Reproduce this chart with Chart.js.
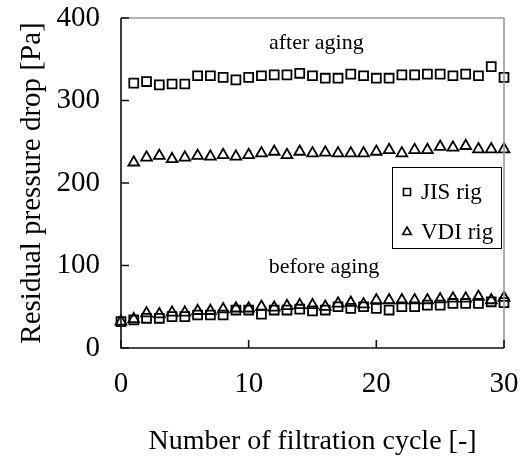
<!DOCTYPE html>
<html>
<head>
<meta charset="utf-8">
<script src="https://cdn.jsdelivr.net/npm/chart.js@4.4.1/dist/chart.umd.min.js"></script>
<style>
html,body{margin:0;padding:0;background:#fff;}
#wrap{width:520px;height:463px;position:relative;}
</style>
</head>
<body>
<div id="wrap"><canvas id="c" width="520" height="463"></canvas></div>
<script>
// ---- data ----
const cyclesBefore = [0,1,2,3,4,5,6,7,8,9,10,11,12,13,14,15,16,17,18,19,20,21,22,23,24,25,26,27,28,29,30];
const cyclesAfter  = [1,2,3,4,5,6,7,8,9,10,11,12,13,14,15,16,17,18,19,20,21,22,23,24,25,26,27,28,29,30];
const jisBefore = [32,34,36,36,38,38,40,40,40,46,46,41,46,46,47,45,46,50,48,50,48,46,50,50,52,52,54,54,54,56,55];
const vdiBefore = [32,35,42,41,43,43,45,45,47,48,48,50,49,51,52,52,50,54,55,53,58,58,58,58,58,59,60,60,62,58,61];
const jisAfter  = [321,323,319,320,320,330,330,328,325,328,330,331,331,333,330,327,327,332,330,327,327,331,331,332,332,330,332,330,341,328];
const vdiAfter  = [225,231,233,229,231,233,232,234,232,234,236,238,234,238,236,237,236,236,236,238,240,236,240,240,244,243,245,241,241,241];
const xTicks = [0,10,20,30];
const yTicks = [0,100,200,300,400];
const seriesNames = ['JIS rig','VDI rig'];
const notes = ['after aging','before aging'];
const xTitle = 'Number of filtration cycle [-]';
const yTitle = 'Residual pressure drop [Pa]';

const FONT = "'Liberation Serif','Times New Roman',serif";

function pts(xs, ys){ return xs.map((x,i)=>({x:x, y:ys[i]})); }

const sqStyle = {pointStyle:'rect', pointRadius:6.3, pointBorderWidth:1.8, pointBorderColor:'#000', pointBackgroundColor:'rgba(0,0,0,0)', showLine:false, clip:false};
const trStyle = {pointStyle:'triangle', pointRadius:6.2, pointBorderWidth:1.8, pointBorderColor:'#000', pointBackgroundColor:'rgba(0,0,0,0)', showLine:false, clip:false};

const framePlugin = {
  id:'frame',
  afterDraw(chart){
    const ctx = chart.ctx, a = chart.chartArea;
    const xs = chart.scales.x, ys = chart.scales.y;
    ctx.save();
    // top & right grey borders
    ctx.strokeStyle = '#9a9a9a'; ctx.lineWidth = 1.6;
    ctx.beginPath(); ctx.moveTo(a.left, a.top); ctx.lineTo(a.right, a.top); ctx.lineTo(a.right, a.bottom); ctx.stroke();
    // left & bottom black axes
    ctx.strokeStyle = '#111'; ctx.lineWidth = 1.6;
    ctx.beginPath(); ctx.moveTo(a.left, a.top); ctx.lineTo(a.left, a.bottom); ctx.lineTo(a.right, a.bottom); ctx.stroke();
    // inward ticks
    ctx.beginPath();
    yTicks.forEach(v=>{ const p = ys.getPixelForValue(v); ctx.moveTo(a.left, p); ctx.lineTo(a.left+8, p); });
    xTicks.forEach(v=>{ const p = xs.getPixelForValue(v); ctx.moveTo(p, a.bottom); ctx.lineTo(p, a.bottom-8); });
    ctx.stroke();
    // annotations
    ctx.fillStyle = '#000';
    ctx.font = "22px " + FONT;
    ctx.textAlign = 'center'; ctx.textBaseline = 'middle';
    ctx.fillText(notes[0], xs.getPixelForValue(15.3), ys.getPixelForValue(369));
    ctx.fillText(notes[1], xs.getPixelForValue(15.9), ys.getPixelForValue(98));
    // legend box
    const bx = 392, by = 167, bw = 109, bh = 81;
    ctx.fillStyle = '#fff'; ctx.fillRect(bx, by, bw, bh);
    ctx.strokeStyle = '#000'; ctx.lineWidth = 1;
    ctx.strokeRect(bx+0.5, by+0.5, bw, bh);
    const styles = ['rect','triangle'];
    const rows = [192, 232];
    ctx.font = "23px " + FONT;
    ctx.textAlign = 'left';
    rows.forEach((ry,i)=>{
      ctx.fillStyle = 'rgba(0,0,0,0)';
      ctx.strokeStyle = '#000'; ctx.lineWidth = 1.6;
      Chart.helpers.drawPoint(ctx, {pointStyle:styles[i], radius:5, borderWidth:1.6, rotation:0}, 407, ry);
      ctx.fillStyle = '#000';
      ctx.fillText(seriesNames[i], 421, ry+1);
    });
    ctx.restore();
  }
};

new Chart(document.getElementById('c'), {
  type:'scatter',
  data:{
    datasets:[
      Object.assign({label:seriesNames[0]+' before', data:pts(cyclesBefore, jisBefore)}, sqStyle),
      Object.assign({label:seriesNames[1]+' before', data:pts(cyclesBefore, vdiBefore)}, trStyle),
      Object.assign({label:seriesNames[0]+' after', data:pts(cyclesAfter, jisAfter)}, sqStyle),
      Object.assign({label:seriesNames[1]+' after', data:pts(cyclesAfter, vdiAfter)}, trStyle)
    ]
  },
  options:{
    responsive:false, animation:false, devicePixelRatio:1,
    layout:{padding:{top:18, right:16, left:0, bottom:0}},
    plugins:{legend:{display:false}, tooltip:{enabled:false}},
    scales:{
      x:{
        type:'linear', min:0, max:30,
        afterBuildTicks(s){ s.ticks = xTicks.map(v=>({value:v})); },
        afterFit(s){ s.height = 115; s.paddingLeft = 0; s.paddingRight = 0; },
        grid:{display:false, drawTicks:false},
        border:{display:false},
        ticks:{color:'#000', font:{family:FONT, size:29}, padding:19, maxRotation:0},
        title:{display:true, text:xTitle, color:'#000', font:{family:FONT, size:28}, padding:{top:0,bottom:5}}
      },
      y:{
        type:'linear', min:0, max:400,
        afterBuildTicks(s){ s.ticks = yTicks.map(v=>({value:v})); },
        afterFit(s){ s.width = 121; s.paddingTop = 0; s.paddingBottom = 0; },
        grid:{display:false, drawTicks:false},
        border:{display:false},
        ticks:{color:'#000', font:{family:FONT, size:29}, padding:21},
        title:{display:true, text:yTitle, color:'#000', font:{family:FONT, size:29}, padding:{top:15,bottom:0}}
      }
    }
  },
  plugins:[framePlugin]
});
</script>
</body>
</html>
